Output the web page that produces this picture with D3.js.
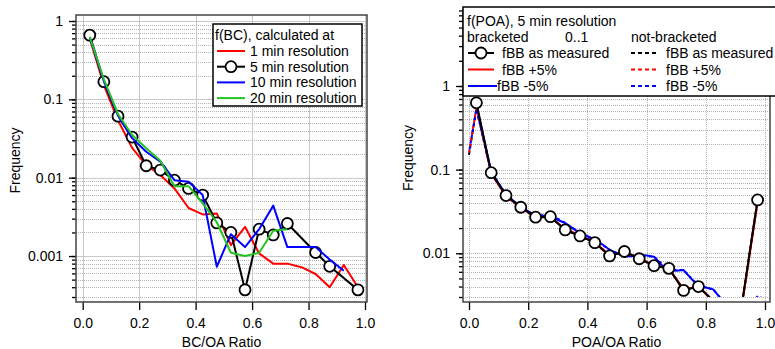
<!DOCTYPE html>
<html>
<head>
<meta charset="utf-8">
<script src="https://cdn.jsdelivr.net/npm/d3@7"></script>
<style>
  body { margin: 0; background: #fff; }
  svg { display: block; font-family: Arial, "Liberation Sans", sans-serif; }
</style>
</head>
<body>
<svg id="chart" width="775" height="349"></svg>
<script>
// ---- data ----
const bins = [0.025, 0.075, 0.125, 0.175, 0.225, 0.275, 0.325, 0.375, 0.425, 0.475,
              0.525, 0.575, 0.625, 0.675, 0.725, 0.775, 0.825, 0.875, 0.925, 0.975];

// left: f(BC)
const bc1min  = [0.60, 0.152, 0.054, 0.024, 0.0145, 0.0108, 0.0073, 0.0041, 0.0034, 0.0035,
                 0.00138, 0.00236, 0.00108, 0.0008, 0.0008, 0.00072, 0.00059, 0.0004, 0.00077, 0.0004];
const bc5min  = [0.66, 0.168, 0.061, 0.033, 0.0142, 0.0125, 0.0093, 0.0073, 0.006, 0.00265,
                 0.002, 0.00037, 0.0022, 0.00186, 0.0026, null, 0.00111, 0.00074, null, 0.00037];
const bc10min = [0.62, 0.17, 0.062, 0.032, 0.0214, 0.016, 0.0093, 0.0089, 0.006, 0.00073,
                 0.0019, 0.0013, 0.0022, 0.0044, 0.0013, 0.0013, 0.0013, 0.0009, 0.00065, null];
const bc20min = [0.63, 0.18, 0.065, 0.035, 0.0237, 0.0165, 0.0078, 0.0078, 0.0047, 0.0027,
                 0.0011, 0.001, 0.0011, 0.0021, 0.0022, null, null, null, null, null];

// right: f(POA), bracketed
const poaMeas = [0.63, 0.092, 0.049, 0.0355, 0.027, 0.0274, 0.019, 0.0161, 0.0134, 0.0093,
                 0.0105, 0.0086, 0.0071, 0.0066, 0.0036, 0.004, 0.0027, null, 0.0029, 0.0434];
const poaPlus = [0.58, 0.09, 0.048, 0.035, 0.027, 0.027, 0.0195, 0.0163, 0.0136, 0.0095,
                 0.0104, 0.0087, 0.0072, 0.0066, 0.0037, 0.004, 0.0027, null, 0.0028, 0.041];
const poaMinusX = [0.025, 0.075, 0.125, 0.175, 0.225, 0.25, 0.275, 0.3, 0.325, 0.35, 0.375, 0.4,
                   0.425, 0.45, 0.475, 0.5, 0.525, 0.55, 0.575, 0.6, 0.625, 0.65, 0.675, 0.7,
                   0.725, 0.75, 0.775, 0.8, 0.825, 0.85];
const poaMinus  = [0.6, 0.094, 0.05, 0.036, 0.028, 0.028, 0.029, 0.025, 0.023, 0.02, 0.0174, 0.016,
                   0.0145, 0.0128, 0.011, 0.01, 0.0092, 0.0092, 0.0095, 0.0094, 0.0091, 0.0073, 0.0063, 0.0062,
                   0.0063, 0.005, 0.0041, 0.0039, 0.0037, 0.0029];

// right: not-bracketed
const nbX     = [0, 0.025, 0.075, 0.125, 0.175, 0.225, 0.275, 0.325, 0.375, 0.425, 0.475,
                 0.525, 0.575, 0.625, 0.675, 0.725, 0.775, 0.825, 0.875, 0.925, 0.975];
const nbMeas  = [0.15, 0.54, 0.092, 0.049, 0.0355, 0.027, 0.0274, 0.019, 0.0161, 0.0134, 0.0093,
                 0.0105, 0.0086, 0.0071, 0.0066, 0.0036, 0.004, 0.0027, null, 0.0029, 0.0434];
const nbPlus  = [0.16, 0.55, 0.09, 0.048, 0.035, 0.027, 0.027, 0.0195, 0.0163, 0.0136, 0.0095,
                 0.0104, 0.0087, 0.0072, 0.0066, 0.0037, 0.004, 0.0027, null, 0.0028, 0.041];
const nbMinusX = [0, 0.025, 0.075, 0.125, 0.175, 0.225, 0.275, 0.325, 0.375, 0.425, 0.475, 0.525,
                  0.575, 0.625, 0.675, 0.725, 0.775, 0.825, 0.85, 0.875, 0.925, 0.975, 0.99];
const nbMinus  = [0.16, 0.53, 0.094, 0.05, 0.036, 0.028, 0.029, 0.023, 0.0174, 0.0145, 0.011, 0.0092,
                  0.0095, 0.0091, 0.0063, 0.0063, 0.0041, 0.0037, 0.0029, 0.0016, 0.0014, 0.0031, 0.0029];

const xTicks = [0, 0.2, 0.4, 0.6, 0.8, 1.0];
const xTickLabels = ["0.0", "0.2", "0.4", "0.6", "0.8", "1.0"];
const leftYTicks = [0.001, 0.01, 0.1, 1];
const leftYLabels = ["0.001", "0.01", "0.1", "1"];
const rightYTicks = [0.01, 0.1, 1];
const rightYLabels = ["0.01", "0.1", "1"];

const RED = "#ff0000", BLUE = "#0000ff", GREEN = "#22c322";

const svg = d3.select("#chart");

function logTicks(lo, hi) {
  const t = [];
  for (let e = -5; e <= 1; e++)
    for (let m = 1; m <= 9; m++) {
      const v = +(m * Math.pow(10, e)).toPrecision(3);
      if (v >= lo * 0.999 && v <= hi * 1.001) t.push(v);
    }
  return t;
}

function pairs(xs, ys) {
  return xs.map((x, i) => [x, ys[i]]).filter(d => d[1] != null);
}

function panel(o) {
  const g = svg.append("g");
  const f = o.frame;
  const x = d3.scaleLinear().domain([0, 1]).range([o.x0, o.x1]);
  const y = d3.scaleLog().domain([o.yMin, 1]).range([o.yBot, o.yOne]);

  // grid
  const gridY = logTicks(o.yMin, o.gridMax);
  g.append("g").selectAll("line").data(gridY).join("line")
    .attr("x1", f.l).attr("x2", f.r)
    .attr("y1", d => Math.round(y(d)) + 0.5).attr("y2", d => Math.round(y(d)) + 0.5)
    .attr("stroke", d => o.yTicks.includes(d) && !o.dotted ? "#c8c8c8" : "#b4b4b4")
    .attr("stroke-dasharray", d => o.yTicks.includes(d) && !o.dotted ? null : "1,1");
  g.append("g").selectAll("line").data(xTicks).join("line")
    .attr("x1", d => Math.round(x(d)) + 0.5).attr("x2", d => Math.round(x(d)) + 0.5)
    .attr("y1", f.t).attr("y2", f.b)
    .attr("stroke", o.dotted ? "#b4b4b4" : "#c8c8c8")
    .attr("stroke-dasharray", o.dotted ? "1,1" : null);

  // axes
  const minorAxis = d3.axisLeft(y).tickValues(logTicks(o.yMin, o.tickMax)).tickSize(4).tickFormat("");
  const majorAxis = d3.axisLeft(y).tickValues(o.yTicks).tickSize(7).tickPadding(6)
    .tickFormat((d, i) => o.yLabels[i]);
  const xAxis = d3.axisBottom(x).tickValues(xTicks).tickSize(8).tickPadding(8)
    .tickFormat((d, i) => xTickLabels[i]);

  [minorAxis, majorAxis].forEach(a => {
    g.append("g").attr("transform", `translate(${f.l},0)`).call(a)
      .attr("font-size", 14).attr("font-family", null)
      .call(s => s.select(".domain").remove())
      .call(s => s.selectAll("line").attr("stroke-width", 1.3));
  });
  g.append("g").attr("transform", `translate(0,${f.b})`).call(xAxis)
    .attr("font-size", 14).attr("font-family", null)
    .call(s => s.select(".domain").remove())
    .call(s => s.selectAll("line").attr("stroke-width", 1.3));

  // frame
  g.append("rect").attr("x", f.l).attr("y", f.t)
    .attr("width", f.r - f.l).attr("height", f.b - f.t)
    .attr("fill", "none").attr("stroke", "#444").attr("stroke-width", 1.5);

  // titles
  g.append("text").attr("transform", `translate(${o.yTitleX},${(f.t + f.b) / 2 + 2}) rotate(-90)`)
    .attr("text-anchor", "middle").attr("dominant-baseline", "central")
    .attr("font-size", 14).text("Frequency");
  g.append("text").attr("x", (f.l + f.r) / 2).attr("y", 342)
    .attr("text-anchor", "middle").attr("dominant-baseline", "central")
    .attr("font-size", 14).text(o.xTitle);

  // data layer
  const clipId = "clip" + o.id;
  svg.append("clipPath").attr("id", clipId).append("rect")
    .attr("x", f.l).attr("y", f.t).attr("width", f.r - f.l).attr("height", o.clipBot - f.t);
  const data = g.append("g").attr("clip-path", `url(#${clipId})`);
  const line = d3.line().x(d => x(d[0])).y(d => y(d[1]));

  o.series.forEach(s => {
    const pts = pairs(s.x, s.y);
    data.append("path").datum(pts).attr("d", line)
      .attr("fill", "none").attr("stroke", s.color).attr("stroke-width", 2)
      .attr("stroke-dasharray", s.dash || null)
      .attr("stroke-dashoffset", s.dashOffset || 0)
      .attr("stroke-linejoin", "round");
    if (s.markers) {
      // markers outside the axis range are not drawn
      data.append("g").selectAll("circle").data(pts.filter(d => d[1] >= o.yMin)).join("circle")
        .attr("cx", d => x(d[0])).attr("cy", d => y(d[1])).attr("r", 5.5)
        .attr("fill", "#fff").attr("stroke", "#000").attr("stroke-width", 1.8);
    }
  });
  return g;
}

// ---- left panel ----
panel({
  id: "L",
  frame: { l: 76, r: 367, t: 15, b: 302 },
  x0: 82.7, x1: 365,
  yMin: 0.0003, yBot: 297, yOne: 21,
  gridMax: 1, tickMax: 1,
  yTicks: leftYTicks, yLabels: leftYLabels,
  yTitleX: 15, xTitle: "BC/OA Ratio",
  clipBot: 302,
  series: [
    { x: bins, y: bc1min, color: RED },
    { x: bins, y: bc5min, color: "#000", markers: true },
    { x: bins, y: bc10min, color: BLUE },
    { x: bins, y: bc20min, color: GREEN }
  ]
});

// ---- right panel ----
panel({
  id: "R",
  frame: { l: 463, r: 770, t: 10, b: 302 },
  x0: 469, x1: 765,
  yMin: 0.003, yBot: 297, yOne: 86,
  gridMax: 8, tickMax: 8, dotted: true,
  yTicks: rightYTicks, yLabels: rightYLabels,
  yTitleX: 408, xTitle: "POA/OA Ratio",
  clipBot: 297,
  series: [
    { x: nbX, y: nbMeas, color: "#000", dash: "4,3" },
    { x: bins, y: poaPlus, color: RED },
    { x: poaMinusX, y: poaMinus, color: BLUE },
    { x: nbX, y: nbPlus, color: RED, dash: "3,3" },
    { x: nbMinusX, y: nbMinus, color: BLUE, dash: "3,3", dashOffset: 3 },
    { x: bins, y: poaMeas, color: "#000", markers: true }
  ]
});

// ---- legends ----
function sample(g, x1, x2, yy, color, dash, marker) {
  g.append("line").attr("x1", x1).attr("x2", x2).attr("y1", yy).attr("y2", yy)
    .attr("stroke", color).attr("stroke-width", 2).attr("stroke-dasharray", dash || null);
  if (marker) g.append("circle").attr("cx", (x1 + x2) / 2).attr("cy", yy).attr("r", 5.5)
    .attr("fill", "#fff").attr("stroke", "#000").attr("stroke-width", 1.8);
}
function label(g, xx, yy, t) {
  g.append("text").attr("x", xx).attr("y", yy).attr("dominant-baseline", "central")
    .attr("font-size", 14).text(t);
}

const legL = svg.append("g");
legL.append("rect").attr("x", 213).attr("y", 24).attr("width", 149).attr("height", 82)
  .attr("fill", "#fff").attr("stroke", "#000").attr("stroke-width", 1.5);
label(legL, 215, 35, "f(BC), calculated at");
[["1 min resolution", RED, false], ["5 min resolution", "#000", true],
 ["10 min resolution", BLUE, false], ["20 min resolution", GREEN, false]].forEach((r, i) => {
  const yy = 51 + i * 15.7;
  sample(legL, 217, 245, yy, r[1], null, r[2]);
  label(legL, 250, yy, r[0]);
});

const legR = svg.append("g");
legR.append("rect").attr("x", 463).attr("y", 7).attr("width", 330).attr("height", 89)
  .attr("fill", "#fff").attr("stroke", "#000").attr("stroke-width", 1.5);
label(legR, 467, 21, "f(POA), 5 min resolution");
label(legR, 467, 37, "bracketed");
label(legR, 565, 37, "0..1");
label(legR, 631, 37, "not-bracketed");
sample(legR, 468, 494, 53, "#000", null, true);
label(legR, 502, 53, "fBB as measured");
sample(legR, 468, 494, 69.5, RED);
label(legR, 502, 69.5, "fBB +5%");
sample(legR, 468, 497, 86, BLUE);
label(legR, 497, 86, "fBB -5%");
sample(legR, 631, 657, 53, "#000", "4,3");
label(legR, 666, 53, "fBB as measured");
sample(legR, 631, 657, 69.5, RED, "4,3");
label(legR, 666, 69.5, "fBB +5%");
sample(legR, 631, 657, 86, BLUE, "4,3");
label(legR, 666, 86, "fBB -5%");
</script>
</body>
</html>
